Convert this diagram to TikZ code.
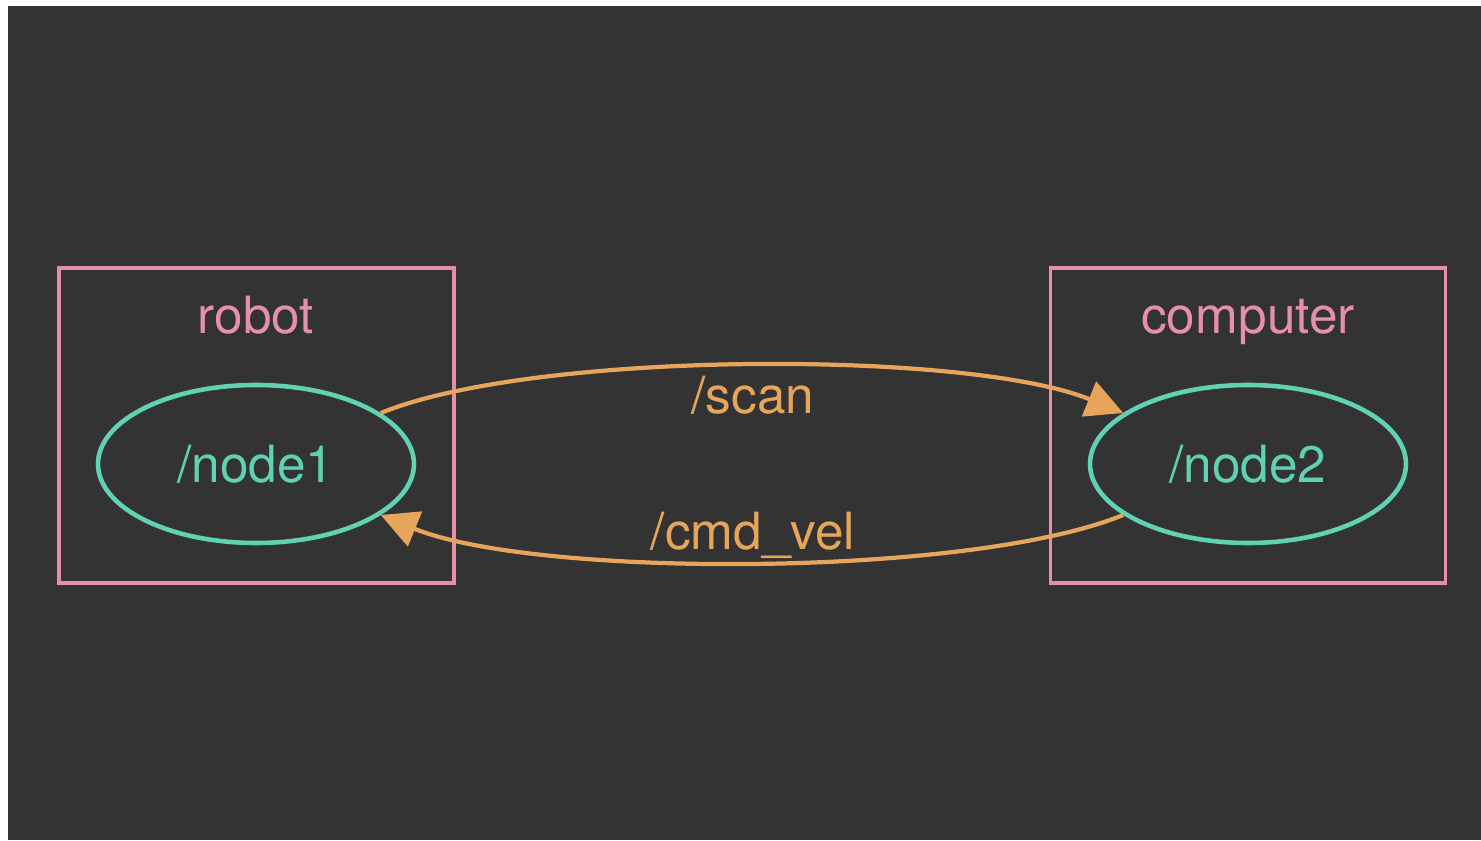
\documentclass[tikz,border=0pt]{standalone}
\usepackage{fontspec}
\setmainfont{TeX Gyre Heros}
\usepackage{xcolor}
\usepackage{tikz}
\usetikzlibrary{arrows.meta, positioning, shapes.geometric}
\definecolor{bgdark}{HTML}{333333}
\definecolor{clpink}{HTML}{E58FA8}
\definecolor{ndteal}{HTML}{60D1B3}
\definecolor{tporange}{HTML}{E6A55A}

\tikzset{
  cluster/.style={draw=clpink, line width=1pt, minimum width=3.95cm, minimum height=3.15cm, inner sep=0pt},
  cltitle/.style={text=clpink, anchor=base, font=\fontsize{14.6}{17}\selectfont},
  rosnode/.style={ellipse, draw=ndteal, line width=1.3pt, minimum width=3.16cm, minimum height=1.58cm, inner sep=0pt, text=ndteal, font=\fontsize{14.6}{17}\selectfont},
  topic/.style={tporange, line width=1.2pt, -{Triangle[length=0.37cm, width=0.37cm]}},
  topiclbl/.style={text=tporange, anchor=base, font=\fontsize{14.6}{17}\selectfont}
}

\begin{document}
\begin{tikzpicture}
  % Pozadi
  \fill[white] (0, 0) rectangle (14.81, 8.40);
  \fill[bgdark] (0.08, 0) rectangle (14.81, 8.34);

  % Skupiny (robot, computer)
  \node[cluster] (robotbox) at (2.565, 4.145) {};
  \node[cluster] (compbox) at (12.48, 4.145) {};
  \node[cltitle] (robottitle) at (2.56, 5.06) {robot};
  \node[cltitle] (comptitle) at (12.48, 5.06) {computer};

  % Uzly
  \node[rosnode] (node1) at (2.56, 3.76) {/node1};
  \node[rosnode] (node2) at (12.48, 3.76) {/node2};

  % Temata
  \draw[topic] (node1) .. controls (5.35, 4.90) and (9.69, 4.90) .. (node2);
  \draw[topic] (node2) .. controls (9.69, 2.62) and (5.35, 2.62) .. (node1);
  \node[topiclbl] (scanlbl) at (7.53, 4.26) {/scan};
  \node[topiclbl] (cmdlbl) at (7.53, 2.90) {/cmd\_vel};
\end{tikzpicture}
\end{document}
